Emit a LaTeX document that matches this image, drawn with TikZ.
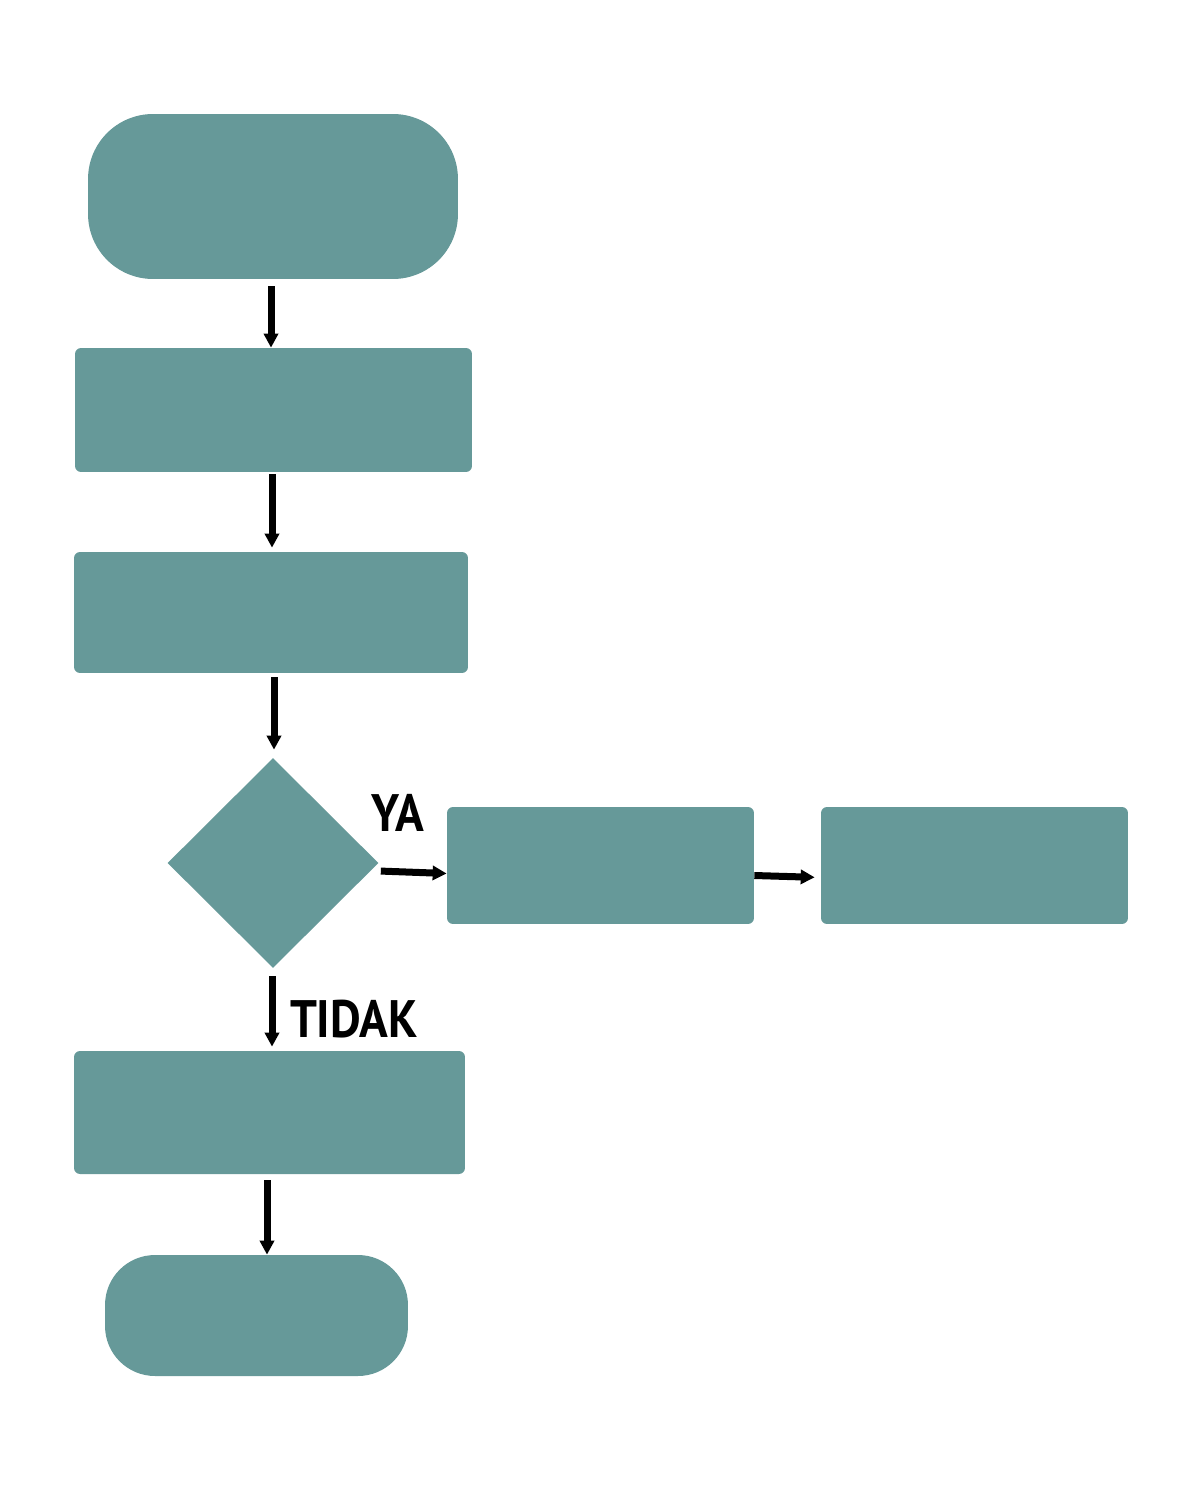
\documentclass[tikz,border=0pt]{standalone}
\usepackage{fontspec}
\usepackage{tikz}
\usetikzlibrary{calc,positioning,shapes,arrows.meta}
\newfontfamily\lblfont{PT Sans}[FakeStretch=0.9]
\definecolor{teal}{RGB}{102,153,153}
\tikzset{
	blok/.style={fill=teal, rounded corners=0.12cm, inner sep=0},
	panah/.style={-{Triangle[length=0.28cm,width=0.28cm]}, line width=0.14cm},
	lbl/.style={font=\lblfont\bfseries\fontsize{30}{30}\selectfont, inner sep=0},
}

\begin{document}
\begin{tikzpicture}[x=0.02cm,y=-0.02cm]
		\useasboundingbox (0,0) rectangle (1200,1500);
		\node[fill=teal, rounded corners=1.3cm, minimum width=7.4cm, minimum height=3.3cm] at (273,196.5) (mulai) {};
		\node[blok, minimum width=7.94cm, minimum height=2.48cm] at (273.5,410) (b1) {};
		\node[blok, minimum width=7.88cm, minimum height=2.42cm] at (271,612.5) (b2) {};
		\node[fill=teal, diamond, aspect=1, inner sep=0, minimum width=4.22cm, minimum height=4.2cm] at (273,863) (kep) {};
		\node[blok, minimum width=6.14cm, minimum height=2.34cm] at (600.5,865.5) (b3) {};
		\node[blok, minimum width=6.14cm, minimum height=2.34cm] at (974.5,865.5) (b4) {};
		\node[blok, minimum width=7.82cm, minimum height=2.46cm] at (269.5,1112.5) (b5) {};
		\node[fill=teal, rounded corners=1cm, minimum width=6.06cm, minimum height=2.42cm] at (256.5,1315.5) (selesai) {};
		\node[lbl] at (398,813) (ya) {YA};
		\node[lbl] at (354,1019) (tidak) {TIDAK};
		\draw[panah, shorten <=0.14cm] ($(mulai.south)+(-2,0)$) -- ($(mulai.south |- b1.north)+(-2,0)$);
		\draw[panah, shorten <=0.04cm, shorten >=0.08cm] ($(b1.south)+(-1.5,0)$) -- ($(b1.south |- b2.north)+(-1.5,0)$);
		\draw[panah, shorten <=0.08cm, shorten >=0.16cm] ($(b2.south)+(3,0)$) -- ($(b2.south |- kep.north)+(3,0)$);
		\draw[panah, shorten <=0.04cm] ($(kep.east)+(0,8)$) -- ($(b3.west)+(0,8)$);
		\draw[panah, shorten >=0.12cm] ($(b3.east)+(0,10)$) -- ($(b4.west)+(0,12)$);
		\draw[panah, shorten <=0.16cm, shorten >=0.08cm] ($(kep.south)+(-1,0)$) -- ($(kep.south |- b5.north)+(-1,0)$);
		\draw[panah, shorten <=0.12cm] ($(b5.south)+(-2.5,0)$) -- ($(b5.south |- selesai.north)+(-2.5,0)$);
\end{tikzpicture}
\end{document}
